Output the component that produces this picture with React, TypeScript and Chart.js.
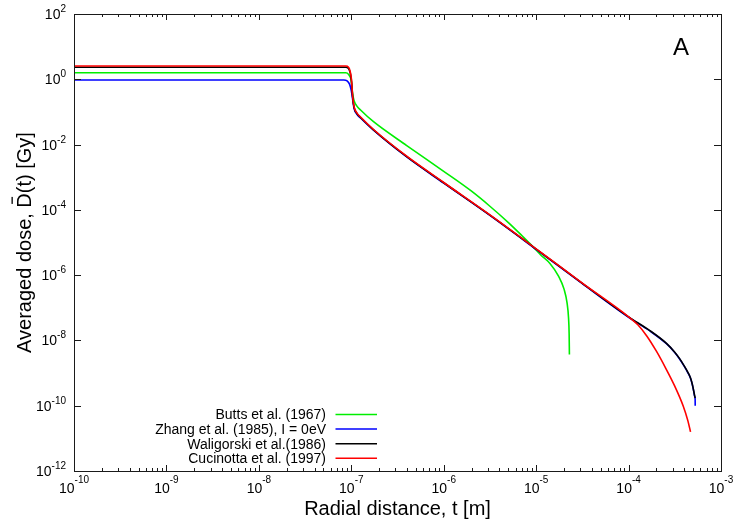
import React, { useEffect, useRef } from "react";
import { Chart, registerables } from "chart.js";

Chart.register(...registerables);

const FONT = '"Liberation Sans", Arial, Helvetica, sans-serif';

// Axis ticks (decade exponents)
const xTickExponents = [-10, -9, -8, -7, -6, -5, -4, -3];
const yTickExponents = [2, 0, -2, -4, -6, -8, -10, -12];
const minorMultipliers = [2, 3, 4, 5, 6, 7, 8, 9];

// Series labels and colours
const seriesLabels = [
  "Butts et al. (1967)",
  "Zhang et al. (1985), I = 0eV",
  "Waligorski et al.(1986)",
  "Cucinotta et al. (1997)",
];
const seriesColors = ["#00ee00", "#0000ff", "#000000", "#ff0000"];

// Butts et al. (1967)
const buttsT = [1e-10, 8.71e-8, 9.33e-8, 1.0e-7, 1.035e-7, 1.07e-7, 1.15e-7, 1.26e-7, 1.74e-7, 3.98e-7, 1.0e-6, 2.0e-6, 3.16e-6, 5.01e-6, 7.08e-6, 9.33e-6, 1.12e-5, 1.41e-5, 1.74e-5, 2.0e-5, 2.16e-5, 2.24e-5, 2.275e-5, 2.29e-5];
const buttsD = [1.58, 1.58, 1.41, 0.89, 0.355, 0.224, 0.151, 0.115, 0.0501, 9.33e-3, 1.51e-3, 3.72e-4, 1.29e-4, 4.07e-5, 1.58e-5, 7.24e-6, 4.17e-6, 2.29e-6, 9.55e-7, 3.8e-7, 1.41e-7, 5.01e-8, 1.58e-8, 3.72e-9];

// Zhang et al. (1985), I = 0eV
const zhangT = [1e-10, 8.3e-8, 9.0e-8, 9.6e-8, 1.0e-7, 1.035e-7, 1.07e-7, 1.15e-7, 1.26e-7, 1.74e-7, 3.98e-7, 1.0e-6, 3.16e-6, 1.0e-5, 3.16e-5, 1.0e-4, 1.70e-4, 2.57e-4, 3.16e-4, 3.55e-4, 3.98e-4, 4.37e-4, 4.68e-4, 4.9e-4, 5.07e-4, 5.19e-4, 5.25e-4, 5.26e-4];
const zhangD = [0.955, 0.955, 0.9, 0.7, 0.45, 0.24, 0.13, 0.085, 0.065, 0.0275, 4.17e-3, 6.6e-4, 6.76e-5, 6.17e-6, 5.5e-7, 5.13e-8, 1.95e-8, 7.94e-9, 4.27e-9, 2.75e-9, 1.66e-9, 1.04e-9, 6.9e-10, 4.36e-10, 2.75e-10, 1.95e-10, 1.6e-10, 1.0e-10];

// Waligorski et al. (1986)
const waligorskiT = [1e-10, 8.71e-8, 9.33e-8, 1.0e-7, 1.035e-7, 1.07e-7, 1.15e-7, 1.26e-7, 1.74e-7, 3.98e-7, 1.0e-6, 3.16e-6, 1.0e-5, 3.16e-5, 1.0e-4, 1.70e-4, 2.57e-4, 3.16e-4, 3.55e-4, 3.98e-4, 4.37e-4, 4.68e-4, 4.9e-4, 5.07e-4, 5.19e-4, 5.25e-4];
const waligorskiD = [2.33, 2.33, 2.14, 1.0, 0.282, 0.141, 0.0891, 0.0676, 0.0282, 4.27e-3, 6.76e-4, 6.92e-5, 6.31e-6, 5.62e-7, 5.25e-8, 2.0e-8, 8.13e-9, 4.37e-9, 2.82e-9, 1.70e-9, 1.07e-9, 7.08e-10, 4.47e-10, 2.82e-10, 2.0e-10, 1.70e-10];

// Cucinotta et al. (1997)
const cucinottaT = [1e-10, 8.71e-8, 9.33e-8, 1.0e-7, 1.035e-7, 1.07e-7, 1.15e-7, 1.26e-7, 1.74e-7, 3.98e-7, 1.0e-6, 3.16e-6, 1.0e-5, 3.16e-5, 1.0e-4, 1.26e-4, 1.58e-4, 2.0e-4, 2.51e-4, 3.16e-4, 3.89e-4, 4.37e-4, 4.68e-4];
const cucinottaD = [2.55, 2.55, 2.35, 1.1, 0.3, 0.148, 0.093, 0.07, 0.029, 4.4e-3, 6.9e-4, 7.0e-5, 6.4e-6, 5.7e-7, 5.3e-8, 3.02e-8, 1.35e-8, 4.68e-9, 1.45e-9, 3.98e-10, 1.0e-10, 3.55e-11, 1.58e-11];

const seriesT = [buttsT, zhangT, waligorskiT, cucinottaT];
const seriesD = [buttsD, zhangD, waligorskiD, cucinottaD];
const seriesOrder = [3, 2, 1, 0];

const xTitle = "Radial distance, t [m]";
const yTitleBefore = "Averaged dose, ";
const yTitleBar = "D";
const yTitleAfter = "(t) [Gy]";
const panelLabel = "A";

function drawPow(ctx: CanvasRenderingContext2D, exp: number, x: number, y: number, align: string, raise: number) {
  const base = "10";
  const es = String(exp);
  ctx.font = `14px ${FONT}`;
  const wb = ctx.measureText(base).width;
  ctx.font = `10px ${FONT}`;
  const we = ctx.measureText(es).width;
  const total = wb + we;
  const sx = align === "center" ? x - total / 2 : x - total;
  ctx.textAlign = "left";
  ctx.textBaseline = "alphabetic";
  ctx.font = `14px ${FONT}`;
  ctx.fillText(base, sx, y);
  ctx.font = `10px ${FONT}`;
  ctx.fillText(es, sx + wb, y - raise);
}

const decorPlugin = {
  id: "decor",
  afterDatasetsDraw(chart: any) {
    const ctx: CanvasRenderingContext2D = chart.ctx;
    const { left, right, top, bottom } = chart.chartArea;
    const xs = chart.scales.x;
    const ys = chart.scales.y;
    ctx.save();
    ctx.strokeStyle = "#1a1a1a";
    ctx.lineWidth = 1;
    // border
    ctx.strokeRect(Math.round(left) + 0.5, Math.round(top) + 0.5, Math.round(right - left), Math.round(bottom - top));
    // x ticks
    ctx.beginPath();
    xTickExponents.forEach((e) => {
      const px = Math.round(xs.getPixelForValue(Math.pow(10, e))) + 0.5;
      ctx.moveTo(px, bottom);
      ctx.lineTo(px, bottom - 6);
      ctx.moveTo(px, top);
      ctx.lineTo(px, top + 6);
      if (e < xTickExponents[xTickExponents.length - 1]) {
        minorMultipliers.forEach((m) => {
          const mx = Math.round(xs.getPixelForValue(m * Math.pow(10, e))) + 0.5;
          ctx.moveTo(mx, bottom);
          ctx.lineTo(mx, bottom - 3);
          ctx.moveTo(mx, top);
          ctx.lineTo(mx, top + 3);
        });
      }
    });
    // y ticks
    yTickExponents.forEach((e) => {
      const py = Math.round(ys.getPixelForValue(Math.pow(10, e))) + 0.5;
      ctx.moveTo(left, py);
      ctx.lineTo(left + 7, py);
      ctx.moveTo(right, py);
      ctx.lineTo(right - 7, py);
    });
    ctx.stroke();

    ctx.fillStyle = "#000";
    // x tick labels
    xTickExponents.forEach((e) => {
      const px = xs.getPixelForValue(Math.pow(10, e));
      drawPow(ctx, e, px, 493, "center", 10);
    });
    // y tick labels
    yTickExponents.forEach((e) => {
      const py = ys.getPixelForValue(Math.pow(10, e));
      drawPow(ctx, e, 66, py + 5, "right", 7);
    });

    // x title
    ctx.font = `20px ${FONT}`;
    ctx.textAlign = "center";
    ctx.textBaseline = "alphabetic";
    ctx.fillText(xTitle, (left + right) / 2, 515);

    // y title (rotated)
    ctx.save();
    ctx.translate(31, (top + bottom) / 2);
    ctx.rotate(-Math.PI / 2);
    ctx.font = `20px ${FONT}`;
    ctx.textAlign = "left";
    const w1 = ctx.measureText(yTitleBefore).width;
    const w2 = ctx.measureText(yTitleBar).width;
    const w3 = ctx.measureText(yTitleAfter).width;
    const sx = -(w1 + w2 + w3) / 2;
    ctx.fillText(yTitleBefore, sx, 0);
    ctx.fillText(yTitleBar, sx + w1, 0);
    ctx.fillText(yTitleAfter, sx + w1 + w2, 0);
    ctx.fillRect(sx + w1 + w2 / 2 - 3.5, -19.5, 7, 1.3);
    ctx.restore();

    // panel label
    ctx.font = `24px ${FONT}`;
    ctx.textAlign = "center";
    ctx.fillText(panelLabel, 681, 55);

    // legend
    ctx.font = `14px ${FONT}`;
    ctx.textAlign = "right";
    ctx.textBaseline = "middle";
    seriesLabels.forEach((lab, i) => {
      const y = 414.5 + i * 14.6;
      ctx.fillStyle = "#000";
      ctx.fillText(lab, 326, y + 1);
      ctx.strokeStyle = seriesColors[i];
      ctx.lineWidth = 1.5;
      ctx.beginPath();
      ctx.moveTo(335.5, y);
      ctx.lineTo(377, y);
      ctx.stroke();
    });
    ctx.restore();
  },
};

export default function App() {
  const ref = useRef<HTMLCanvasElement | null>(null);
  useEffect(() => {
    if (!ref.current) return;
    const datasets = seriesLabels.map((label, i) => ({
      label,
      data: seriesT[i].map((t, j) => ({ x: t, y: seriesD[i][j] })),
      borderColor: seriesColors[i],
      backgroundColor: seriesColors[i],
      borderWidth: 1.6,
      pointRadius: 0,
      fill: false,
      cubicInterpolationMode: "monotone" as const,
      order: seriesOrder[i],
    }));
    const chart = new Chart(ref.current, {
      type: "line",
      data: { datasets },
      options: {
        animation: false,
        responsive: false,
        maintainAspectRatio: false,
        layout: { padding: { left: 74, top: 14, right: 26, bottom: 52 } },
        plugins: { legend: { display: false }, tooltip: { enabled: false } },
        scales: {
          x: { type: "logarithmic", min: 1e-10, max: 1e-3, display: false },
          y: { type: "logarithmic", min: 1e-12, max: 1e2, display: false },
        },
      },
      plugins: [decorPlugin],
    });
    return () => chart.destroy();
  }, []);
  return (
    <div style={{ position: "absolute", left: 0, top: 0, width: 747, height: 523, background: "#fff" }}>
      <canvas ref={ref} width={747} height={523} style={{ display: "block" }} />
    </div>
  );
}
